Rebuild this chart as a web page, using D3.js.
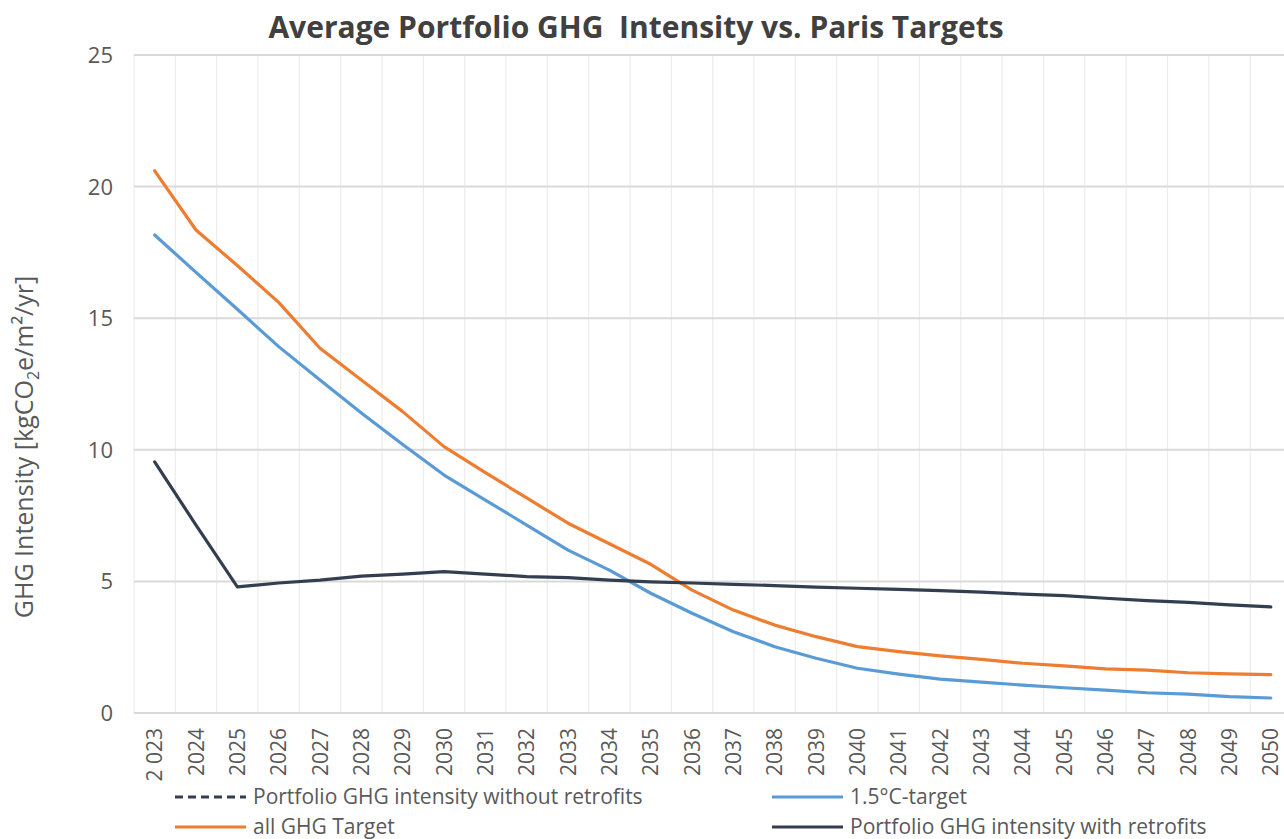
<!DOCTYPE html>
<html>
<head>
<meta charset="utf-8">
<script src="https://cdn.jsdelivr.net/npm/d3@7"></script>
<style>
  body { margin: 0; background: #fff; }
  svg { display: block; font-family: "Open Sans", "Noto Sans", sans-serif; }
</style>
</head>
<body>
<div id="chart"></div>
<script>
const width = 1284;
const height = 839;

const years = [
  "2023", "2024", "2025", "2026", "2027", "2028", "2029", "2030", "2031", "2032",
  "2033", "2034", "2035", "2036", "2037", "2038", "2039", "2040", "2041", "2042",
  "2043", "2044", "2045", "2046", "2047", "2048", "2049", "2050"
];
const yearLabels = years.map((y, i) => (i === 0 ? "2 023" : y));

const allGhgTarget = [
  20.6, 18.35, 17.0, 15.6, 13.86, 12.65, 11.45, 10.12, 9.13, 8.17,
  7.21, 6.43, 5.65, 4.67, 3.91, 3.34, 2.9, 2.52, 2.33, 2.17,
  2.04, 1.89, 1.79, 1.68, 1.63, 1.53, 1.49, 1.46
];
const target15 = [
  18.16, 16.74, 15.34, 13.92, 12.65, 11.4, 10.2, 9.04, 8.09, 7.14,
  6.19, 5.43, 4.55, 3.79, 3.09, 2.52, 2.08, 1.7, 1.48, 1.29,
  1.17, 1.06, 0.96, 0.87, 0.77, 0.72, 0.62, 0.57
];
const withRetrofits = [
  9.54, 7.14, 4.79, 4.94, 5.05, 5.2, 5.28, 5.37, 5.28, 5.18,
  5.14, 5.05, 4.98, 4.94, 4.89, 4.84, 4.78, 4.74, 4.7, 4.65,
  4.59, 4.52, 4.46, 4.36, 4.27, 4.2, 4.11, 4.03
];
const yTicks = [0, 5, 10, 15, 20, 25];

const series = [
  { name: "1.5°C-target", values: target15, color: "#5B9BD5" },
  { name: "all GHG Target", values: allGhgTarget, color: "#ED7D31" },
  { name: "Portfolio GHG intensity with retrofits", values: withRetrofits, color: "#333F50" }
];

const svg = d3.select("#chart").append("svg")
  .attr("width", width)
  .attr("height", height);

const x = d3.scaleBand().domain(years).range([134, 1291.5]);
const y = d3.scaleLinear().domain([0, 25]).range([713, 55]);

// vertical gridlines at band edges
const edges = d3.range(years.length + 1).map((i) => x(years[0]) + i * x.bandwidth());
svg.append("g")
  .selectAll("line")
  .data(edges)
  .enter()
  .append("line")
  .attr("x1", (d) => d)
  .attr("x2", (d) => d)
  .attr("y1", y(25))
  .attr("y2", y(0))
  .attr("stroke", "#ececec")
  .attr("stroke-width", 1.2);

// horizontal gridlines
svg.append("g")
  .selectAll("line")
  .data(yTicks)
  .enter()
  .append("line")
  .attr("x1", 134)
  .attr("x2", width)
  .attr("y1", (d) => y(d))
  .attr("y2", (d) => y(d))
  .attr("stroke", "#d9d9d9")
  .attr("stroke-width", 2);

// y tick labels
svg.append("g")
  .selectAll("text")
  .data(yTicks)
  .enter()
  .append("text")
  .attr("x", 113)
  .attr("y", (d) => y(d))
  .attr("dy", "0.36em")
  .attr("text-anchor", "end")
  .attr("font-size", "22px")
  .attr("fill", "#595959")
  .text((d) => d);

// x tick labels (rotated)
svg.append("g")
  .selectAll("text")
  .data(years)
  .enter()
  .append("text")
  .attr("transform", (d) => `translate(${x(d) + x.bandwidth() / 2 + 7.5},728) rotate(-90)`)
  .attr("text-anchor", "end")
  .attr("font-size", "21px")
  .attr("fill", "#595959")
  .text((d, i) => yearLabels[i]);

// y axis title
const yTitle = svg.append("text")
  .attr("transform", "translate(33,447) rotate(-90)")
  .attr("text-anchor", "middle")
  .attr("font-size", "25px")
  .attr("fill", "#595959");
yTitle.append("tspan").text("GHG Intensity [kgCO");
yTitle.append("tspan").attr("font-size", "16px").attr("dy", 6).text("2");
yTitle.append("tspan").attr("dy", -6).text("e/m²/yr]");

// title
svg.append("text")
  .attr("x", 636)
  .attr("y", 38)
  .attr("text-anchor", "middle")
  .attr("font-size", "30px")
  .attr("font-weight", "bold")
  .attr("fill", "#404040")
  .style("white-space", "pre")
  .text("Average Portfolio GHG  Intensity vs. Paris Targets");

// lines
const line = d3.line()
  .x((d, i) => x(years[i]) + x.bandwidth() / 2)
  .y((d) => y(d));

svg.append("g")
  .selectAll("path")
  .data(series)
  .enter()
  .append("path")
  .attr("d", (d) => line(d.values))
  .attr("fill", "none")
  .attr("stroke", (d) => d.color)
  .attr("stroke-width", 3.2)
  .attr("stroke-linejoin", "round")
  .attr("stroke-linecap", "round");

// legend
const legendItems = [
  { name: "Portfolio GHG intensity without retrofits", color: "#333F50", dash: "8,5", x: 175, y: 797 },
  { name: "1.5°C-target", color: "#5B9BD5", dash: null, x: 772, y: 797 },
  { name: "all GHG Target", color: "#ED7D31", dash: null, x: 175, y: 827 },
  { name: "Portfolio GHG intensity with retrofits", color: "#333F50", dash: null, x: 772, y: 827 }
];

const legend = svg.append("g");
const li = legend.selectAll("g")
  .data(legendItems)
  .enter()
  .append("g")
  .attr("transform", (d) => `translate(${d.x},${d.y})`);

li.append("line")
  .attr("x1", 0)
  .attr("x2", 71)
  .attr("stroke", (d) => d.color)
  .attr("stroke-width", 3.2)
  .attr("stroke-dasharray", (d) => d.dash);

li.append("text")
  .attr("x", 78)
  .attr("dy", "0.35em")
  .attr("font-size", "21px")
  .attr("fill", "#595959")
  .text((d) => d.name);
</script>
</body>
</html>
